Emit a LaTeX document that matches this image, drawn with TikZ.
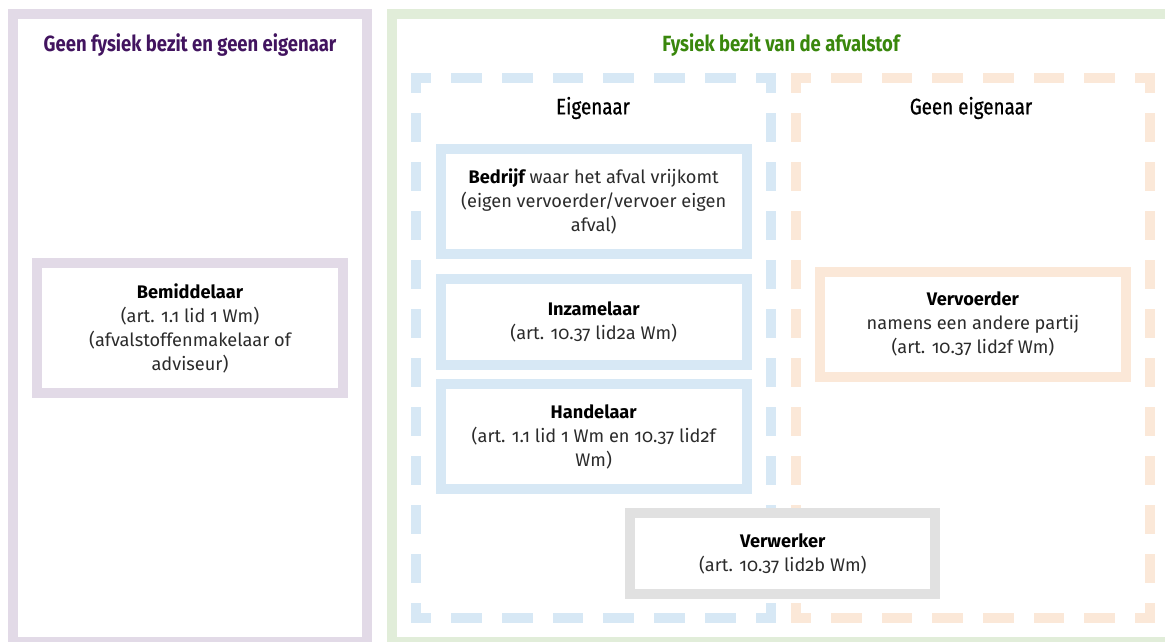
\documentclass[tikz,border=0pt]{standalone}
\usepackage{fontspec}
\setmainfont{Fira Sans}[Numbers=OldStyle]
\newfontfamily\headfont{Fira Sans}[FakeStretch=0.84]
\newfontfamily\secfont{Fira Sans}[FakeStretch=0.84, FakeBold=0.7]
\definecolor{purpframe}{HTML}{E2DAE7}
\definecolor{purptext}{HTML}{42145F}
\definecolor{greenframe}{HTML}{E1EDD9}
\definecolor{greentext}{HTML}{39870C}
\definecolor{blueframe}{HTML}{D7E8F5}
\definecolor{orangeframe}{HTML}{FBE8D8}
\definecolor{grayframe}{HTML}{E1E1E1}
\definecolor{bodytext}{HTML}{2B2B2B}
\tikzset{
  frame/.style={line width=10pt},
  box/.style={rectangle, line width=10pt, inner sep=0pt, align=center,
    text=bodytext, font=\fontsize{18.2}{24}\selectfont},
  hdash/.style={line width=10pt, line cap=rect, dash pattern=on 20.7pt off 30pt, dash phase=10.35pt},
  vdash/.style={line width=10pt, line cap=rect, dash pattern=on 19.09pt off 30pt, dash phase=9.545pt},
  sectitle/.style={font=\secfont\fontsize{22.4}{24}\selectfont, inner sep=0pt},
  bigtitle/.style={font=\headfont\fontsize{22}{24}\selectfont, inner sep=0pt},
}
\newcommand{\lbl}[1]{{\color{black}\bfseries #1}}
\begin{document}
\begin{tikzpicture}[x=1pt,y=-1pt]
\useasboundingbox (0,0) rectangle (1165,641);
\clip (0,0) rectangle (1165,641);
% outer frames
\draw[frame, purpframe] (13,14) rectangle (367,642);
\draw[frame, greenframe] (392,14) rectangle (1172,642);
% dashed blue region
\coordinate (b1) at (416,78);
\coordinate (b2) at (771,78);
\coordinate (b3) at (771,618);
\coordinate (b4) at (416,618);
\draw[hdash, blueframe] (b1) -- (b2);
\draw[hdash, blueframe] (b4) -- (b3);
\draw[vdash, blueframe] (b1) -- (b4);
\draw[vdash, blueframe] (b2) -- (b3);
% dashed orange region
\coordinate (o1) at (795.5,78);
\coordinate (o2) at (1150,78);
\coordinate (o3) at (1150,618);
\coordinate (o4) at (795.5,618);
\draw[hdash, orangeframe] (o1) -- (o2);
\draw[hdash, orangeframe] (o4) -- (o3);
\draw[vdash, orangeframe] (o1) -- (o4);
\draw[vdash, orangeframe] (o2) -- (o3);
% titles
\node[bigtitle, text=purptext] (t1) at (190,45) {\bfseries Geen fysiek bezit en geen eigenaar};
\node[bigtitle, text=greentext] (t2) at (781,45) {\bfseries Fysiek bezit van de afvalstof};
\node[sectitle, text=black] (t3) at (593,108) {Eigenaar};
\node[sectitle, text=black] (t4) at (971,108) {Geen eigenaar};
% boxes
\node[box, draw=purpframe, fill=white, minimum width=305.4pt, minimum height=130pt] (bem) at (190,328.3)
  {\lbl{Bemiddelaar}\\(art. 1.1 lid 1 Wm)\\(afvalstoffenmakelaar of\\adviseur)};
\node[box, draw=blueframe, fill=white, minimum width=306pt, minimum height=105pt] (bed) at (593.7,201.8)
  {\lbl{Bedrijf} waar het afval vrijkomt\\(eigen vervoerder/vervoer eigen\\afval)};
\node[box, draw=blueframe, fill=white, minimum width=306pt, minimum height=86pt] (inz) at (593.7,322)
  {\lbl{Inzamelaar}\\(art. 10.37 lid2a Wm)};
\node[box, draw=blueframe, fill=white, minimum width=306pt, minimum height=105pt] (han) at (593.7,436.5)
  {\lbl{Handelaar}\\(art. 1.1 lid 1 Wm en 10.37 lid2f\\Wm)};
\node[box, draw=orangeframe, fill=white, minimum width=305.7pt, minimum height=105pt] (ver) at (972.9,324.2)
  {\lbl{Vervoerder}\\namens een andere partij\\(art. 10.37 lid2f Wm)};
\node[box, draw=grayframe, fill=white, minimum width=305.3pt, minimum height=80.7pt] (vw) at (782.8,553.7)
  {\lbl{Verwerker}\\(art. 10.37 lid2b Wm)};
\end{tikzpicture}
\end{document}
